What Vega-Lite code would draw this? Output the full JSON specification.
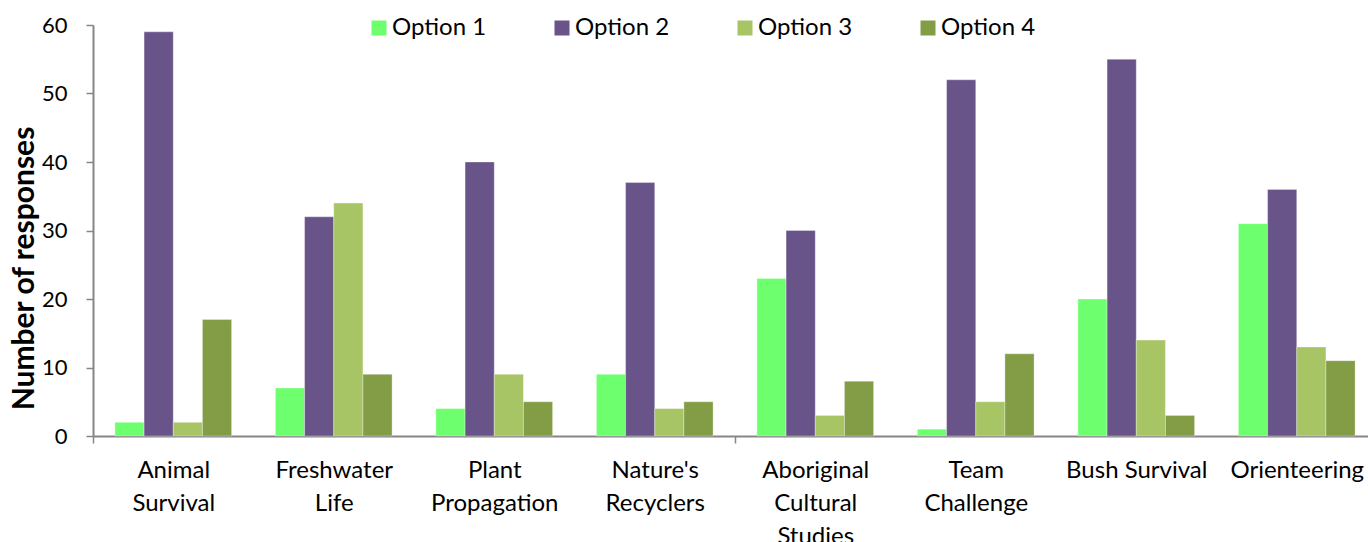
{
  "$schema": "https://vega.github.io/schema/vega-lite/v6.json",
  "autosize": "none",
  "width": 1284,
  "height": 411,
  "padding": {"left": 93, "top": 25, "right": 0, "bottom": 106},
  "background": "white",
  "config": {"view": {"stroke": null}, "font": "Lato"},
  "data": {"values": [
    {"activity": "Animal Survival", "option": "Option 1", "count": 2},
    {"activity": "Animal Survival", "option": "Option 2", "count": 59},
    {"activity": "Animal Survival", "option": "Option 3", "count": 2},
    {"activity": "Animal Survival", "option": "Option 4", "count": 17},
    {"activity": "Freshwater Life", "option": "Option 1", "count": 7},
    {"activity": "Freshwater Life", "option": "Option 2", "count": 32},
    {"activity": "Freshwater Life", "option": "Option 3", "count": 34},
    {"activity": "Freshwater Life", "option": "Option 4", "count": 9},
    {"activity": "Plant Propagation", "option": "Option 1", "count": 4},
    {"activity": "Plant Propagation", "option": "Option 2", "count": 40},
    {"activity": "Plant Propagation", "option": "Option 3", "count": 9},
    {"activity": "Plant Propagation", "option": "Option 4", "count": 5},
    {"activity": "Nature's Recyclers", "option": "Option 1", "count": 9},
    {"activity": "Nature's Recyclers", "option": "Option 2", "count": 37},
    {"activity": "Nature's Recyclers", "option": "Option 3", "count": 4},
    {"activity": "Nature's Recyclers", "option": "Option 4", "count": 5},
    {"activity": "Aboriginal Cultural Studies", "option": "Option 1", "count": 23},
    {"activity": "Aboriginal Cultural Studies", "option": "Option 2", "count": 30},
    {"activity": "Aboriginal Cultural Studies", "option": "Option 3", "count": 3},
    {"activity": "Aboriginal Cultural Studies", "option": "Option 4", "count": 8},
    {"activity": "Team Challenge", "option": "Option 1", "count": 1},
    {"activity": "Team Challenge", "option": "Option 2", "count": 52},
    {"activity": "Team Challenge", "option": "Option 3", "count": 5},
    {"activity": "Team Challenge", "option": "Option 4", "count": 12},
    {"activity": "Bush Survival", "option": "Option 1", "count": 20},
    {"activity": "Bush Survival", "option": "Option 2", "count": 55},
    {"activity": "Bush Survival", "option": "Option 3", "count": 14},
    {"activity": "Bush Survival", "option": "Option 4", "count": 3},
    {"activity": "Orienteering", "option": "Option 1", "count": 31},
    {"activity": "Orienteering", "option": "Option 2", "count": 36},
    {"activity": "Orienteering", "option": "Option 3", "count": 13},
    {"activity": "Orienteering", "option": "Option 4", "count": 11}
  ]},
  "mark": {"type": "bar", "stroke": "#ffffff", "strokeOpacity": 0.4, "strokeWidth": 0.8},
  "encoding": {
    "x": {
      "field": "activity", "type": "nominal", "sort": null,
      "scale": {"paddingInner": 0.273, "paddingOuter": 0.1365},
      "axis": {
        "title": null, "labelAngle": 0, "labelFontSize": 24, "labelColor": "#000000",
        "labelExpr": "datum.value == 'Bush Survival' ? datum.value : split(datum.value, ' ')",
        "labelLineHeight": 33, "labelPadding": 15, "labelBaseline": "top",
        "tickOffset": -80.25, "labelOffset": 80.25, "tickSize": 7, "tickWidth": 1.5,
        "tickColor": {"condition": {"test": "datum.value == 'Animal Survival' || datum.value == 'Aboriginal Cultural Studies'", "value": "#868686"}, "value": "transparent"},
        "domainColor": "#868686", "domainWidth": 2
      }
    },
    "xOffset": {"field": "option", "type": "nominal", "scale": {"padding": 0}},
    "y": {
      "field": "count", "type": "quantitative",
      "scale": {"domain": [0, 60]},
      "axis": {
        "title": "Number of responses", "titleFontSize": 30, "titleFontWeight": "bold",
        "titleColor": "#000000", "titleX": -69, "titleY": 243, "titleBaseline": "middle",
        "values": [0, 10, 20, 30, 40, 50, 60], "labelFontSize": 22, "labelColor": "#000000",
        "labelPadding": 19, "tickSize": 7, "tickColor": "#868686", "domainColor": "#868686",
        "domainWidth": 2, "tickWidth": 1.5, "grid": false
      }
    },
    "color": {
      "field": "option", "type": "nominal",
      "scale": {"domain": ["Option 1", "Option 2", "Option 3", "Option 4"],
                "range": ["#6eff6e", "#69548a", "#a7c565", "#839d46"]},
      "legend": {
        "title": null, "orient": "none", "legendX": 274, "legendY": -9,
        "direction": "horizontal", "columns": 4, "symbolType": "square", "symbolSize": 225,
        "symbolStrokeWidth": 0, "labelFontSize": 24, "labelColor": "#000000",
        "labelOffset": 1, "columnPadding": 63
      }
    }
  }
}
